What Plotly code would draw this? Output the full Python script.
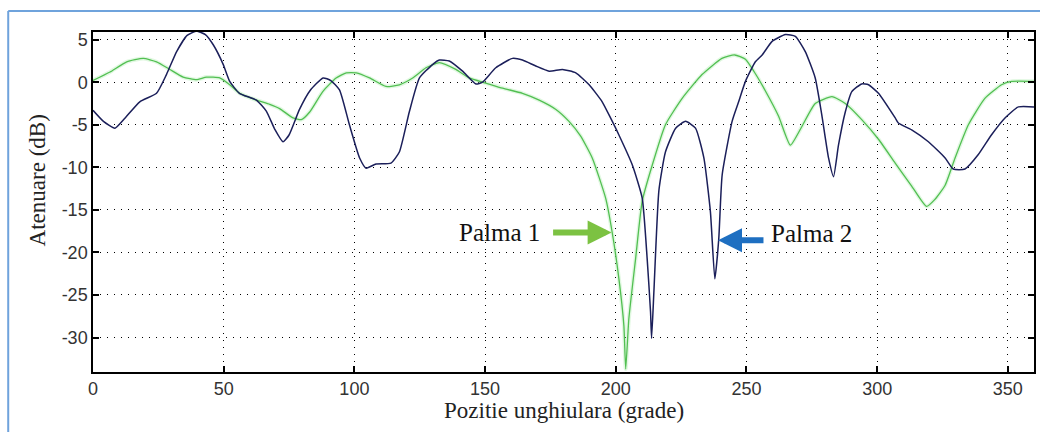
import plotly.graph_objects as go

# ---- data ----
navy_x = [0, 4, 8.4, 12, 17.9, 24.3, 28.1, 32, 36, 39.6, 43, 46, 49.8, 52.3, 56, 62.5, 66.3, 69.5,
          72.7, 75, 79, 83, 88, 91, 94.3, 98.1, 102, 104.5, 108.3, 114, 117.2, 121, 124.9, 130,
          132.5, 136.3, 141.4, 146.5, 149, 154.1, 160.5, 164.3, 169.4, 174.5, 179.6, 184.7, 189.8,
          194.8, 198, 201.2, 206.3, 210.1, 212, 213.3, 213.7, 214.6, 216.5, 219, 222.9, 226.7,
          230.5, 233.7, 236.2, 237.9, 239.4, 240.7, 244.5, 247, 249.6, 253.4, 256, 259.8, 264.9,
          268.7, 272.5, 276.3, 278.8, 281.4, 283.3, 285.2, 287.8, 290.3, 294.1, 296.7, 300.5,
          306.9, 308.1, 313.2, 319.6, 326, 329.1, 333.6, 338.7, 343.7, 348.9, 354, 360]
navy_y = [-3.3, -4.6, -5.4, -4.3, -2.3, -1.3, 0.9, 3.6, 5.5, 6.0, 5.6, 4.4, 2.1, 0.1, -1.3, -2.1, -3.4, -5.5,
          -7.0, -6.2, -3.2, -1.0, 0.5, 0.2, -0.9, -5.0, -8.9, -10.1, -9.6, -9.5, -8.2, -3.5, 0.5, 2.1,
          2.6, 2.5, 1.3, -0.2, 0.0, 1.7, 2.8, 2.6, 1.9, 1.3, 1.5, 1.1, -0.3,
          -2.3, -4.2, -6.2, -9.7, -13.6, -20.7, -27.0, -30.1, -24.5, -12.7, -8.2, -5.4, -4.6,
          -5.4, -8.9, -15.2, -23.1, -18.4, -10.9, -4.6, -2.3, 0.1, 2.4, 3.2, 4.8, 5.6,
          5.4, 3.6, 0.5, -3.8, -8.9, -11.1, -7.4, -3.5, -1.1, -0.2, -0.3, -1.3,
          -4.2, -4.8, -5.6, -7.0, -8.9, -10.2, -10.2, -8.5, -6.2, -4.2, -2.9, -2.9]

green_x = [0, 6.5, 12.9, 19.2, 24.3, 29.4, 34.5, 39.6, 43.4, 48.5, 52.3, 56.1, 62.5, 67.6, 71.4,
           76.5, 79.7, 82.9, 87.9, 93, 96.9, 100.7, 105.8, 112.1, 117.2, 122.3, 127.4, 132.5,
           138.8, 143.9, 150.3, 156.7, 164.3, 170.7, 177.1, 182.1, 186.5, 191, 196.1, 198.6,
           201.2, 203.1, 203.8, 205, 207.6, 210.1, 214, 219, 225.4, 233, 240.6, 245.5, 249.6,
           253, 257.2, 262.3, 266.8, 271.2, 276.3, 282.7, 287.8, 294.1, 300.5, 306.9, 313.2,
           318.9, 322, 326, 329.8, 334.9, 341.2, 347.6, 351.4, 360]
green_y = [0.2, 1.2, 2.4, 2.8, 2.4, 1.5, 0.6, 0.3, 0.6, 0.5, -0.3, -1.3, -2.1, -2.6, -3.1,
           -4.2, -4.4, -3.5, -1.1, 0.5, 1.1, 1.1, 0.5, -0.5, -0.3, 0.5, 1.7, 2.3,
           1.5, 0.5, -0.1, -0.7, -1.3, -2.1, -3.2, -4.6, -6.3, -8.9, -13.6, -17.6,
           -23.1, -28.6, -33.7, -27.8, -20.7, -14.0, -9.7, -5.0, -1.9, 0.9, 2.8, 3.2, 2.7,
           1.2, -1.0, -4.0, -7.4, -5.2, -2.5, -1.7, -2.5, -4.4, -6.7, -9.5, -12.2,
           -14.6, -13.8, -12.1, -8.9, -5.0, -1.9, -0.3, 0.1, 0.1]

x_ticks = [0, 50, 100, 150, 200, 250, 300, 350]
x_tick_labels = ["0", "50", "100", "150", "200", "250", "300", "350"]
y_ticks = [-30, -25, -20, -15, -10, -5, 0, 5]
y_tick_labels = ["-30", "-25", "-20", "-15", "-10", "-5", "0", "5"]

x_title = "Pozitie unghiulara (grade)"
y_title = "Atenuare (dB)"
label_1 = "Palma 1"
label_2 = "Palma 2"

# ---- figure ----
fig = go.Figure()
fig.add_trace(go.Scatter(x=green_x, y=green_y, mode="lines",
                         line=dict(color="rgba(170,235,170,0.35)", width=4, shape="spline", smoothing=0.5),
                         hoverinfo="skip", showlegend=False))
fig.add_trace(go.Scatter(x=green_x, y=green_y, mode="lines",
                         line=dict(color="#52bf52", width=1.3, shape="spline", smoothing=0.5),
                         showlegend=False, name="Palma 1"))
fig.add_trace(go.Scatter(x=navy_x, y=navy_y, mode="lines",
                         line=dict(color="#1b1f5a", width=1.5, shape="spline", smoothing=0.5),
                         showlegend=False, name="Palma 2"))

axis_common = dict(
    showline=True, linecolor="black", linewidth=1.5, mirror="ticks",
    ticks="inside", ticklen=6, tickcolor="black", tickwidth=1.5,
    showgrid=True, gridcolor="black", gridwidth=1, griddash="1px,6px",
    zeroline=False,
    tickfont=dict(family="Liberation Sans, Arial, sans-serif", size=18, color="#333333"),
)

fig.update_xaxes(range=[0, 360], tickvals=x_ticks, ticktext=x_tick_labels, **axis_common)
fig.update_yaxes(range=[-34.05, 5.9], tickvals=y_ticks, ticktext=y_tick_labels, **axis_common)

serif = "Liberation Serif, Times New Roman, serif"
fig.update_layout(
    width=1040, height=432,
    margin=dict(l=93, r=4, t=32, b=60),
    paper_bgcolor="white", plot_bgcolor="white",
    showlegend=False,
    annotations=[
        dict(text=x_title, xref="paper", yref="paper", x=0.5, y=-0.112,
             showarrow=False, font=dict(family=serif, size=23, color="#222222"),
             xanchor="center", yanchor="middle"),
        dict(text=y_title, xref="paper", yref="paper", x=-0.059, y=0.565,
             showarrow=False, textangle=-90, font=dict(family=serif, size=23, color="#222222"),
             xanchor="center", yanchor="middle"),
        dict(text=label_1, xref="x", yref="y", x=155.4, y=-17.6, showarrow=False,
             font=dict(family=serif, size=25, color="#111111"), xanchor="center", yanchor="middle"),
        dict(text=label_2, xref="x", yref="y", x=274.9, y=-17.8, showarrow=False,
             font=dict(family=serif, size=25, color="#111111"), xanchor="center", yanchor="middle"),
        dict(text="", xref="x", yref="y", x=198.4, y=-17.65, ax=-60, ay=0,
             showarrow=True, arrowhead=2, arrowsize=0.8, arrowwidth=6, arrowcolor="#7cc242"),
        dict(text="", xref="x", yref="y", x=239.1, y=-18.56, ax=47, ay=0,
             showarrow=True, arrowhead=2, arrowsize=0.8, arrowwidth=6, arrowcolor="#1e6fc1"),
    ],
    shapes=[
        dict(type="line", xref="paper", yref="paper", x0=-0.0901, x1=1.02, y0=1.0618, y1=1.0618,
             line=dict(color="#6fa3dc", width=2)),
        dict(type="line", xref="paper", yref="paper", x0=-0.0901, x1=-0.0901, y0=1.0618, y1=-0.25,
             line=dict(color="#6fa3dc", width=2)),
    ],
)

fig.write_html("out.html", config={"displayModeBar": False},
               post_script="document.body.style.margin='0px';document.body.style.overflow='hidden';")
